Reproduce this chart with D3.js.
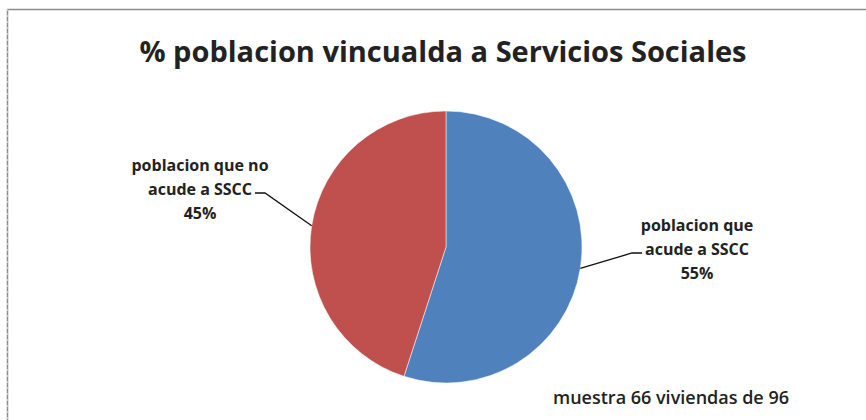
<!DOCTYPE html>
<html>
<head>
<meta charset="utf-8">
<script src="https://cdn.jsdelivr.net/npm/d3@7"></script>
<style>
	body { margin: 0; background: #fff; }
	svg text { font-family: "Open Sans", "Noto Sans", sans-serif; fill: #222; }
</style>
</head>
<body>
<div id="chart"></div>
<script>
////////////////////////////////////////////////////////////
//////////////////////// Data //////////////////////////////
////////////////////////////////////////////////////////////

var categories = ["poblacion que acude a SSCC", "poblacion que no acude a SSCC"];
var values = [55, 45];
var labelLines = [["poblacion que", "acude a SSCC"], ["poblacion que no", "acude a SSCC"]];
var colors = ["#4F81BD", "#C0504D"];

var titleText = "% poblacion vincualda a Servicios Sociales";
var noteText = "muestra 66 viviendas de 96";

////////////////////////////////////////////////////////////
//////////////////////// Setup /////////////////////////////
////////////////////////////////////////////////////////////

var width = 866,
	height = 420,
	radius = 136,
	cx = 446,
	cy = 247;

//Where the label block sits, relative to the pie centre (one per slice)
var labelLayout = [
	{x: 251, y: -22, elbow: 186},
	{x: -246, y: -82, elbow: -181}
];

var svg = d3.select("#chart").append("svg")
	.attr("width", width)
	.attr("height", height);

//Chart frame
svg.append("rect")
	.attr("x", 7.5)
	.attr("y", 9.5)
	.attr("width", width)
	.attr("height", height)
	.style("fill", "none")
	.style("stroke", "#8c8c8c")
	.style("stroke-width", 1.5);

svg.append("line")
	.attr("x1", 7.5).attr("x2", 7.5)
	.attr("y1", 9.5).attr("y2", height)
	.style("stroke", "#fff")
	.style("stroke-width", 1.5)
	.style("stroke-dasharray", "1 5");

//Title
svg.append("text")
	.attr("x", 443)
	.attr("y", 62)
	.attr("text-anchor", "middle")
	.style("font-size", "29px")
	.style("font-weight", 700)
	.text(titleText);

////////////////////////////////////////////////////////////
//////////////////////// Pie ///////////////////////////////
////////////////////////////////////////////////////////////

var pie = d3.pie().sort(null).value(function(d) { return d; });
var arc = d3.arc().innerRadius(0).outerRadius(radius);
var total = d3.sum(values);

var g = svg.append("g")
	.attr("transform", "translate(" + cx + "," + cy + ")");

var slices = pie(values);

g.selectAll(".slice")
	.data(slices)
	.enter().append("path")
	.attr("class", "slice")
	.attr("d", arc)
	.style("fill", function(d, i) { return colors[i]; })
	.style("stroke", "#fff")
	.style("stroke-width", 0.5);

//Leader lines from the slice edge to the label
g.selectAll(".leader")
	.data(slices)
	.enter().append("path")
	.attr("class", "leader")
	.attr("d", function(d, i) {
		var a = (d.startAngle + d.endAngle) / 2;
		var x0 = Math.sin(a) * radius,
			y0 = -Math.cos(a) * radius;
		var L = labelLayout[i];
		var yEnd = L.y + 24 + 4;
		var sign = i === 0 ? 1 : -1;
		return "M" + x0 + "," + y0 + "L" + L.elbow + "," + yEnd + "L" + (L.elbow + sign * 10) + "," + yEnd;
	})
	.style("fill", "none")
	.style("stroke", "#111")
	.style("stroke-width", 1.3);

//Labels
var labels = g.selectAll(".slice-label")
	.data(slices)
	.enter().append("text")
	.attr("class", "slice-label")
	.attr("text-anchor", "middle")
	.attr("transform", function(d, i) {
		return "translate(" + labelLayout[i].x + "," + labelLayout[i].y + ")";
	})
	.style("font-size", "16px")
	.style("font-weight", 700);

labels.each(function(d, i) {
	var t = d3.select(this);
	var lines = labelLines[i].concat([Math.round(d.value / total * 100) + "%"]);
	lines.forEach(function(l, j) {
		t.append("tspan")
			.attr("x", 0)
			.attr("y", j * 24)
			.attr("dy", "0.35em")
			.text(l);
	});
});

//Sample note
svg.append("text")
	.attr("x", 553)
	.attr("y", 404)
	.style("font-size", "18px")
	.style("font-weight", 600)
	.text(noteText);
</script>
</body>
</html>
